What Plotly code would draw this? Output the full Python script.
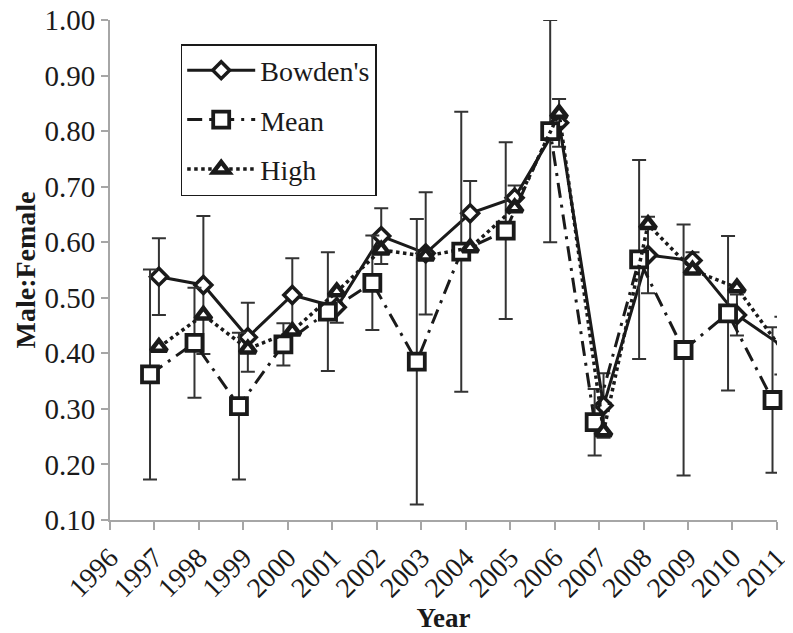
import plotly.graph_objects as go

years = [1997, 1998, 1999, 2000, 2001, 2002, 2003, 2004, 2005, 2006, 2007, 2008, 2009, 2010, 2011]
tick_years = list(range(1996, 2012))

bowden = [0.538, 0.523, 0.429, 0.505, 0.483, 0.611, 0.580, 0.652, 0.680, 0.815, 0.306, 0.577, 0.567, 0.469, 0.414]
bowden_err = [0.069, 0.124, 0.062, 0.066, 0.028, 0.050, 0.110, 0.058, 0.022, 0.043, 0.058, 0.069, 0.015, 0.037, 0.052]

mean = [0.362, 0.419, 0.305, 0.416, 0.475, 0.527, 0.385, 0.583, 0.621, 0.800, 0.276, 0.569, 0.406, 0.472, 0.316]
mean_err = [0.189, 0.099, 0.132, 0.038, 0.107, 0.085, 0.257, 0.252, 0.159, 0.200, 0.060, 0.179, 0.226, 0.139, 0.131]

high = [0.411, 0.469, 0.408, 0.440, 0.511, 0.586, 0.575, 0.590, 0.662, 0.832, 0.259, 0.632, 0.550, 0.518, 0.408]

OFFSET = 0.1
FONT = "Liberation Serif, Times New Roman, serif"
INK = "#1a1a1a"
AXIS = "#a6a6a6"

fig = go.Figure()

fig.add_trace(go.Scatter(
    x=[y + OFFSET for y in years], y=bowden, name="Bowden's", legendgroup="a",
    mode="lines+markers", cliponaxis=False,
    line=dict(color=INK, width=3),
    marker=dict(symbol="diamond", size=13, color="white", line=dict(color=INK, width=3.5)),
    error_y=dict(type="data", array=bowden_err, visible=True, color="#333333", thickness=2, width=7),
))
fig.add_trace(go.Scatter(
    x=[y - OFFSET for y in years], y=mean, name="Mean", legendgroup="b",
    mode="lines+markers", cliponaxis=False,
    line=dict(color=INK, width=3, dash="15px,7px,3px,7px"),
    marker=dict(symbol="square", size=16, color="white", line=dict(color=INK, width=3.8)),
    error_y=dict(type="data", array=mean_err, visible=True, color="#333333", thickness=2, width=7),
))
fig.add_trace(go.Scatter(
    x=[y + OFFSET for y in years], y=high, name="High", legendgroup="c",
    mode="lines+markers", cliponaxis=False,
    line=dict(color=INK, width=3.5, dash="dot"),
    marker=dict(symbol="triangle-up", size=14, color="white", line=dict(color=INK, width=4.5)),
))

fig.update_layout(
    width=793, height=633,
    margin=dict(l=102, r=24, t=12, b=121, autoexpand=False),
    paper_bgcolor="white", plot_bgcolor="white",
    font=dict(family=FONT, size=26, color=INK),
    showlegend=True,
    legend=dict(
        x=0.106, y=0.952, xanchor="left", yanchor="top",
        bordercolor=INK, borderwidth=1.5, bgcolor="white",
        font=dict(family=FONT, size=28, color=INK),
        traceorder="grouped", tracegroupgap=10, itemwidth=68,
    ),
    xaxis=dict(
        range=[1996, 2011.001], tickmode="array", tickvals=tick_years,
        ticktext=[str(t) for t in tick_years], tickangle=-45,
        showgrid=False, zeroline=False, showline=True, linecolor=AXIS, linewidth=2,
        ticks="outside", ticklen=8, tickwidth=2, tickcolor=AXIS,
        tickfont=dict(family=FONT, size=28, color=INK),
        ticklabeloverflow="allow",
        title=dict(text="<b>Year</b>", font=dict(family=FONT, size=27, color=INK), standoff=6),
        automargin=False,
    ),
    yaxis=dict(
        range=[0.1, 1.0], dtick=0.1, tick0=0.1, tickformat=".2f",
        showgrid=False, zeroline=False, showline=True, linecolor=AXIS, linewidth=2,
        ticks="outside", ticklen=7, tickwidth=2, tickcolor=AXIS,
        tickfont=dict(family=FONT, size=29, color=INK),
        ticklabeloverflow="allow",
        title=dict(text="<b>Male:Female</b>", font=dict(family=FONT, size=28, color=INK), standoff=1),
        automargin=False,
    ),
)

fig.write_html("out.html")
